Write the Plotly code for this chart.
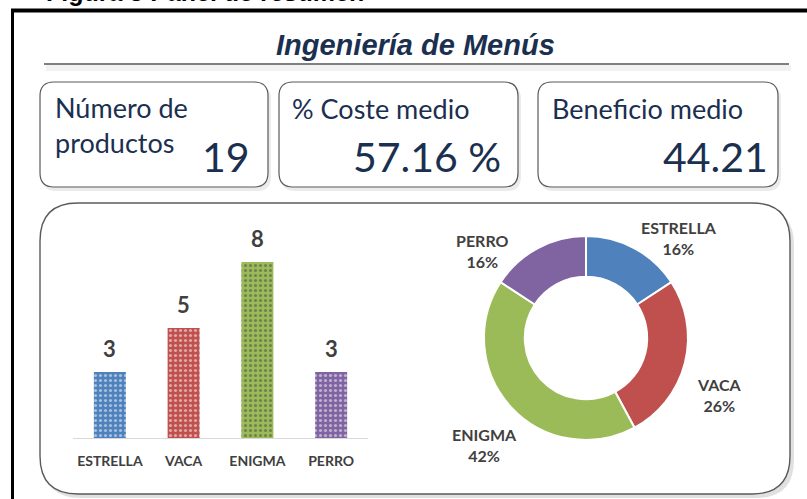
import plotly.graph_objects as go

# ---------------- data ----------------
categories = ["ESTRELLA", "VACA", "ENIGMA", "PERRO"]
counts = [3, 5, 8, 3]
colors = ["#4F81BD", "#C0504D", "#9BBB59", "#8064A2"]

title_text = "Ingeniería de Menús"
caption_text = "Figura 3 Panel de resumen"
kpi_labels = ["Número de<br>productos", "% Coste medio", "Beneficio medio"]
kpi_values = ["19", "57.16 %", "44.21"]

W, H = 807, 499
NAVY = "#1B2F4F"
GRAY = "#404040"
CAL = "Lato, 'Open Sans', sans-serif"


def px(x):
    return x / W


def py(y):
    return 1 - y / H


def rrect(x0, y0, x1, y1, r):
    pts = [
        ("M", [(x0 + r, y0)]),
        ("L", [(x1 - r, y0)]),
        ("Q", [(x1, y0), (x1, y0 + r)]),
        ("L", [(x1, y1 - r)]),
        ("Q", [(x1, y1), (x1 - r, y1)]),
        ("L", [(x0 + r, y1)]),
        ("Q", [(x0, y1), (x0, y1 - r)]),
        ("L", [(x0, y0 + r)]),
        ("Q", [(x0, y0), (x0 + r, y0)]),
    ]
    s = ""
    for cmd, ps in pts:
        s += cmd + " " + " ".join(f"{px(a):.5f},{py(b):.5f}" for a, b in ps) + " "
    return s + "Z"


shapes = []
annotations = []


def add_shape(**kw):
    kw.setdefault("xref", "paper")
    kw.setdefault("yref", "paper")
    kw.setdefault("layer", "below")
    shapes.append(kw)


# outer frame (thick black lines)
add_shape(type="line", x0=px(11), x1=px(809), y0=py(10.5), y1=py(10.5),
          line=dict(color="black", width=4))
add_shape(type="line", x0=px(12.5), x1=px(12.5), y0=py(9), y1=py(502),
          line=dict(color="black", width=3))

# title underline + soft shadow
add_shape(type="rect", x0=px(46), x1=px(791), y0=py(65), y1=py(71),
          fillcolor="rgba(0,0,0,0.05)", line=dict(width=0))
add_shape(type="line", x0=px(44), x1=px(789), y0=py(64), y1=py(64),
          line=dict(color="black", width=1))

# KPI boxes
boxes = [(40, 82, 268, 187), (279, 82, 518, 187), (538, 82, 778, 187)]
for (x0, y0, x1, y1) in boxes:
    add_shape(type="path", path=rrect(x0 + 2, y0 + 3, x1 + 3, y1 + 4, 14),
              fillcolor="rgba(0,0,0,0.08)", line=dict(width=0))
    add_shape(type="path", path=rrect(x0, y0, x1, y1, 14),
              fillcolor="white", line=dict(color="#5a5a5a", width=1.2))

# bottom panel
add_shape(type="path", path=rrect(43, 207, 794, 498, 38),
          fillcolor="rgba(0,0,0,0.12)", line=dict(width=0))
add_shape(type="path", path=rrect(40, 203, 790, 494, 38),
          fillcolor="white", line=dict(color="#5a5a5a", width=1.4))

# caption (cut off at top, as in the reference)
annotations.append(dict(text="<b>" + caption_text + "</b>", xref="paper", yref="paper",
                        x=px(44), y=py(8), xanchor="left", yanchor="bottom", showarrow=False,
                        font=dict(family="Liberation Sans, Arial", size=25, color="black")))
# title
annotations.append(dict(text="<b><i>" + title_text + "</i></b>", xref="paper", yref="paper",
                        x=px(415), y=py(45), xanchor="center", yanchor="middle", showarrow=False,
                        font=dict(family="Liberation Sans, Arial", size=29, color=NAVY)))

# KPI texts
label_pos = [(53, 89), (290, 90), (550, 90)]
value_pos = [(252, 156), (503, 156), (770, 156)]
for i in range(3):
    annotations.append(dict(text=kpi_labels[i], xref="paper", yref="paper",
                            x=px(label_pos[i][0]), y=py(label_pos[i][1]), xanchor="left",
                            yanchor="top", align="left", showarrow=False,
                            font=dict(family=CAL, size=27, color=NAVY)))
    annotations.append(dict(text=kpi_values[i], xref="paper", yref="paper",
                            x=px(value_pos[i][0]), y=py(value_pos[i][1]), xanchor="right",
                            yanchor="middle", showarrow=False,
                            font=dict(family=CAL, size=41, color=NAVY)))

# bar value labels (data driven)
for c, v in zip(categories, counts):
    annotations.append(dict(text=f"<b>{v}</b>", xref="x", yref="y", x=c, y=v,
                            xanchor="center", yanchor="bottom", yshift=8, showarrow=False,
                            font=dict(family=CAL, size=22, color=GRAY)))

# donut labels: text from data, placed around the ring
total = sum(counts)
pie_label_pos = [(679, 238), (719, 395), (484, 445), (482, 251)]
for c, v, (lx, ly) in zip(categories, counts, pie_label_pos):
    annotations.append(dict(text=f"<b>{c}<br>{round(100 * v / total)}%</b>",
                            xref="paper", yref="paper", x=px(lx), y=py(ly),
                            xanchor="center", yanchor="middle", showarrow=False,
                            font=dict(family=CAL, size=16, color=GRAY)))

fig = go.Figure()
fig.add_trace(go.Bar(
    x=categories, y=counts,
    marker=dict(color=colors, line=dict(width=0),
                pattern=dict(shape=".", fgcolor="white", bgcolor=colors, size=5, solidity=0.3)),
    hoverinfo="x+y", showlegend=False,
))
fig.add_trace(go.Pie(
    labels=categories, values=counts, hole=0.6, sort=False, direction="clockwise",
    rotation=0,
    marker=dict(colors=colors, line=dict(color="white", width=2)),
    textinfo="none",
    domain=dict(x=[px(484), px(688)], y=[py(440), py(236)]),
    showlegend=False,
))

fig.update_layout(
    width=W, height=H,
    margin=dict(l=0, r=0, t=0, b=0),
    paper_bgcolor="white", plot_bgcolor="rgba(0,0,0,0)",
    bargap=0.566,
    xaxis=dict(domain=[px(73), px(368)], type="category", range=[-0.5, 3.5],
               showline=True, linecolor="#D9D9D9", linewidth=1, showgrid=False,
               ticks="", ticklabelstandoff=10,
               tickfont=dict(family=CAL, size=14, color=GRAY, weight="bold")),
    yaxis=dict(domain=[py(438), py(218)], range=[0, 10], showgrid=False,
               showticklabels=False, zeroline=False, showline=False),
    shapes=shapes,
    annotations=annotations,
)

fig.write_html("out.html", config={"displayModeBar": False},
               post_script="document.body.style.margin='0';")
